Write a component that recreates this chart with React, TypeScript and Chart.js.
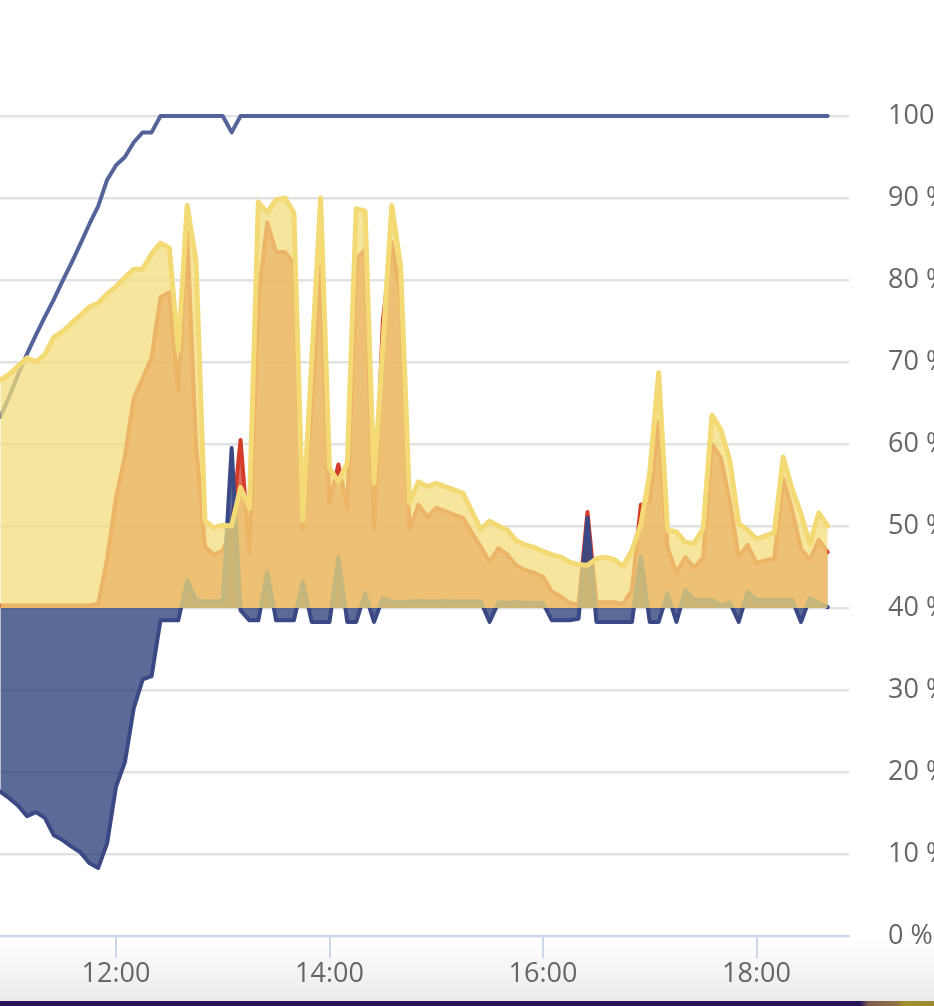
import { useEffect, useRef } from "react";
import { Chart, registerables } from "chart.js";

Chart.register(...registerables);

// 5-minute samples
const times = [
  "10:55",
  "11:00", "11:05", "11:10", "11:15", "11:20", "11:25", "11:30", "11:35", "11:40", "11:45", "11:50", "11:55",
  "12:00", "12:05", "12:10", "12:15", "12:20", "12:25", "12:30", "12:35", "12:40", "12:45", "12:50", "12:55",
  "13:00", "13:05", "13:10", "13:15", "13:20", "13:25", "13:30", "13:35", "13:40", "13:45", "13:50", "13:55",
  "14:00", "14:05", "14:10", "14:15", "14:20", "14:25", "14:30", "14:35", "14:40", "14:45", "14:50", "14:55",
  "15:00", "15:05", "15:10", "15:15", "15:20", "15:25", "15:30", "15:35", "15:40", "15:45", "15:50", "15:55",
  "16:00", "16:05", "16:10", "16:15", "16:20", "16:25", "16:30", "16:35", "16:40", "16:45", "16:50", "16:55",
  "17:00", "17:05", "17:10", "17:15", "17:20", "17:25", "17:30", "17:35", "17:40", "17:45", "17:50", "17:55",
  "18:00", "18:05", "18:10", "18:15", "18:20", "18:25", "18:30", "18:35", "18:40",
];

// Solar production (kW) – yellow area
const solarKw = [
  2.78,
  2.85, 2.95, 3.05, 3.0, 3.09, 3.3, 3.37, 3.47, 3.57, 3.67, 3.72, 3.83,
  3.92, 4.03, 4.13, 4.13, 4.32, 4.45, 4.39, 3.13, 4.91, 4.22, 1.06, 0.98,
  1.01, 1.0, 1.47, 1.22, 4.95, 4.82, 4.98, 5.0, 4.82, 1.07, 3.0, 5.0,
  1.7, 1.54, 1.77, 4.87, 4.84, 1.52, 3.2, 4.91, 4.16, 1.28, 1.54, 1.48,
  1.52, 1.48, 1.44, 1.4, 1.18, 0.96, 1.06, 1.0, 0.95, 0.82, 0.77, 0.74,
  0.69, 0.65, 0.62, 0.56, 0.53, 0.52, 0.6, 0.62, 0.59, 0.51, 0.7, 1.02,
  1.65, 2.87, 0.95, 0.93, 0.8, 0.79, 0.97, 2.35, 2.17, 1.8, 1.03, 0.95,
  0.84, 0.88, 0.92, 1.84, 1.45, 1.15, 0.78, 1.16, 1.0,
];

// House consumption (kW) – red area
const consumptionKw = [
  0.03,
  0.03, 0.03, 0.03, 0.03, 0.03, 0.03, 0.03, 0.03, 0.03, 0.03, 0.05, 0.6,
  1.35, 1.85, 2.56, 2.8, 3.05, 3.79, 3.85, 2.65, 4.6, 2.0, 0.75, 0.65,
  0.7, 0.95, 2.05, 0.67, 3.8, 4.7, 4.34, 4.34, 4.2, 0.95, 2.5, 4.16,
  1.28, 1.75, 1.22, 4.25, 4.37, 0.95, 3.5, 4.46, 3.8, 0.95, 1.26, 1.11,
  1.22, 1.18, 1.14, 1.1, 0.92, 0.75, 0.56, 0.73, 0.65, 0.52, 0.46, 0.43,
  0.38, 0.2, 0.14, 0.06, 0.04, 1.17, 0.07, 0.07, 0.07, 0.05, 0.22, 1.26,
  1.28, 2.27, 0.74, 0.43, 0.62, 0.49, 0.62, 2.0, 1.83, 1.3, 0.62, 0.77,
  0.55, 0.58, 0.6, 1.58, 1.2, 0.72, 0.59, 0.83, 0.68,
];

// Battery power (kW, negative = charging) – navy area
const batteryKw = [
  -2.24,
  -2.32, -2.41, -2.54, -2.49, -2.56, -2.77, -2.83, -2.91, -2.98, -3.11, -3.17, -2.87,
  -2.18, -1.88, -1.22, -0.87, -0.83, -0.15, -0.15, -0.15, 0.34, 0.1, 0.08, 0.08,
  0.09, 1.95, -0.03, -0.15, -0.15, 0.44, -0.15, -0.15, -0.15, 0.32, -0.17, -0.17,
  -0.17, 0.62, -0.17, -0.17, 0.18, -0.17, 0.12, 0.08, 0.07, 0.08, 0.09, 0.08,
  0.08, 0.09, 0.08, 0.08, 0.08, 0.08, -0.17, 0.07, 0.06, 0.07, 0.06, 0.06,
  0.06, -0.15, -0.15, -0.15, -0.13, 1.1, -0.17, -0.17, -0.17, -0.17, -0.17, 0.63,
  -0.17, -0.17, 0.18, -0.17, 0.22, 0.1, 0.1, 0.1, 0.03, 0.07, -0.17, 0.2,
  0.1, 0.1, 0.1, 0.1, 0.1, -0.17, 0.12, 0.06, 0.01,
];

// Battery state of charge (%) – navy line, right axis
const socPct = [
  63.3,
  65.8, 68.5, 71.0, 73.3, 75.5, 77.6, 79.9, 82.1, 84.4, 86.8, 89.0, 92.2,
  94.0, 95.0, 96.8, 98.0, 98.0, 100, 100, 100, 100, 100, 100, 100,
  100, 98, 100, 100, 100, 100, 100, 100, 100, 100, 100, 100,
  100, 100, 100, 100, 100, 100, 100, 100, 100, 100, 100, 100,
  100, 100, 100, 100, 100, 100, 100, 100, 100, 100, 100, 100,
  100, 100, 100, 100, 100, 100, 100, 100, 100, 100, 100, 100,
  100, 100, 100, 100, 100, 100, 100, 100, 100, 100, 100, 100,
  100, 100, 100, 100, 100, 100, 100, 100, 100,
];

const xTickHours = [12, 14, 16, 18];
const socTicks = [0, 10, 20, 30, 40, 50, 60, 70, 80, 90, 100];

const CANVAS_W = 1000;
const CANVAS_H = 1001;
const AREA_RIGHT = 849;
const AREA_BOTTOM = 936;
const FONT = '"Open Sans", "Noto Sans", sans-serif';
const FONT_SIZE = 27;

const toHours = (t: string) => {
  const [h, m] = t.split(":").map(Number);
  return h + m / 60;
};

export default function App() {
  const ref = useRef<HTMLCanvasElement | null>(null);

  useEffect(() => {
    let chart: Chart | null = null;
    let cancelled = false;

    const build = () => {
      if (cancelled || !ref.current) return;
      const xs = times.map(toHours);
      const pts = (arr: number[]) => arr.map((v, i) => ({ x: xs[i], y: v }));

      chart = new Chart(ref.current, {
        type: "line",
        data: {
          datasets: [
            {
              label: "Solar",
              data: pts(solarKw),
              yAxisID: "power",
              borderColor: "rgb(243,218,117)",
              backgroundColor: "rgba(243,220,123,0.75)",
              borderWidth: 5,
              fill: "origin",
            },
            {
              label: "Battery",
              data: pts(batteryKw),
              yAxisID: "power",
              borderColor: "rgb(58,73,133)",
              backgroundColor: "rgba(38,56,118,0.75)",
              borderWidth: 4,
              fill: "origin",
            },
            {
              label: "Consumption",
              data: pts(consumptionKw),
              yAxisID: "power",
              borderColor: "rgb(212,60,42)",
              backgroundColor: "rgba(212,60,42,0.75)",
              borderWidth: 4,
              fill: "origin",
            },
            {
              label: "SOC",
              data: pts(socPct),
              yAxisID: "soc",
              borderColor: "rgb(84,100,154)",
              borderWidth: 4,
              fill: false,
              clip: false,
            },
          ],
        },
        options: {
          animation: false,
          responsive: false,
          events: [],
          layout: { padding: { top: 116, left: 0, right: 0, bottom: 0 } },
          elements: {
            point: { radius: 0 },
            line: { tension: 0, borderJoinStyle: "round", borderCapStyle: "round" },
          },
          plugins: {
            legend: { display: false },
            tooltip: { enabled: false },
          },
          scales: {
            x: {
              type: "linear",
              min: 10.9133,
              max: 18.8665,
              afterBuildTicks: (axis: any) => {
                axis.ticks = xTickHours.map((v) => ({ value: v }));
              },
              afterFit: (axis: any) => {
                axis.height = CANVAS_H - AREA_BOTTOM;
              },
              ticks: {
                autoSkip: false,
                maxRotation: 0,
                padding: 0,
                color: "#666666",
                font: { family: FONT, size: FONT_SIZE },
                callback: (v: any) => `${v}:00`,
              },
              grid: {
                drawOnChartArea: false,
                drawTicks: true,
                tickLength: 22,
                color: "#ccd6eb",
                lineWidth: 2,
              },
              border: { color: "#ccd6eb", width: 2, z: 1 },
            },
            soc: {
              type: "linear",
              position: "right",
              min: 0,
              max: 100,
              afterBuildTicks: (axis: any) => {
                axis.ticks = socTicks.map((v) => ({ value: v }));
              },
              afterFit: (axis: any) => {
                axis.width = CANVAS_W - AREA_RIGHT;
              },
              ticks: {
                padding: 39,
                color: "#666666",
                font: { family: FONT, size: FONT_SIZE },
                callback: (v: any) => `${v} %`,
              },
              grid: { color: "#e2e2e2", lineWidth: 2.5, drawTicks: false },
              border: { display: false },
            },
            power: {
              type: "linear",
              position: "left",
              display: false,
              min: -4,
              max: 6,
            },
          },
        },
      });
    };

    const fonts: any = (document as any).fonts;
    if (fonts && fonts.load) {
      fonts.load(`${FONT_SIZE}px "Open Sans"`).then(build, build);
    } else {
      build();
    }

    return () => {
      cancelled = true;
      if (chart) chart.destroy();
    };
  }, []);

  return (
    <div
      style={{
        position: "fixed",
        left: 0,
        top: 0,
        width: "100vw",
        height: "100vh",
        overflow: "hidden",
        background: "linear-gradient(to bottom, #ffffff 0px, #ffffff 938px, #eaeaea 1001px)",
      }}
    >
      <canvas
        ref={ref}
        width={CANVAS_W}
        height={CANVAS_H}
        style={{ display: "block", width: CANVAS_W, height: CANVAS_H }}
      />
      <div
        style={{
          position: "absolute",
          left: 0,
          top: 1001,
          width: "100%",
          height: 6,
          background:
            "linear-gradient(to right, #28145a 0px, #28145a 860px, #7d5c4c 868px, #8d6f45 895px, #a38f2c 905px, #9a8a36 934px)",
        }}
      />
    </div>
  );
}
